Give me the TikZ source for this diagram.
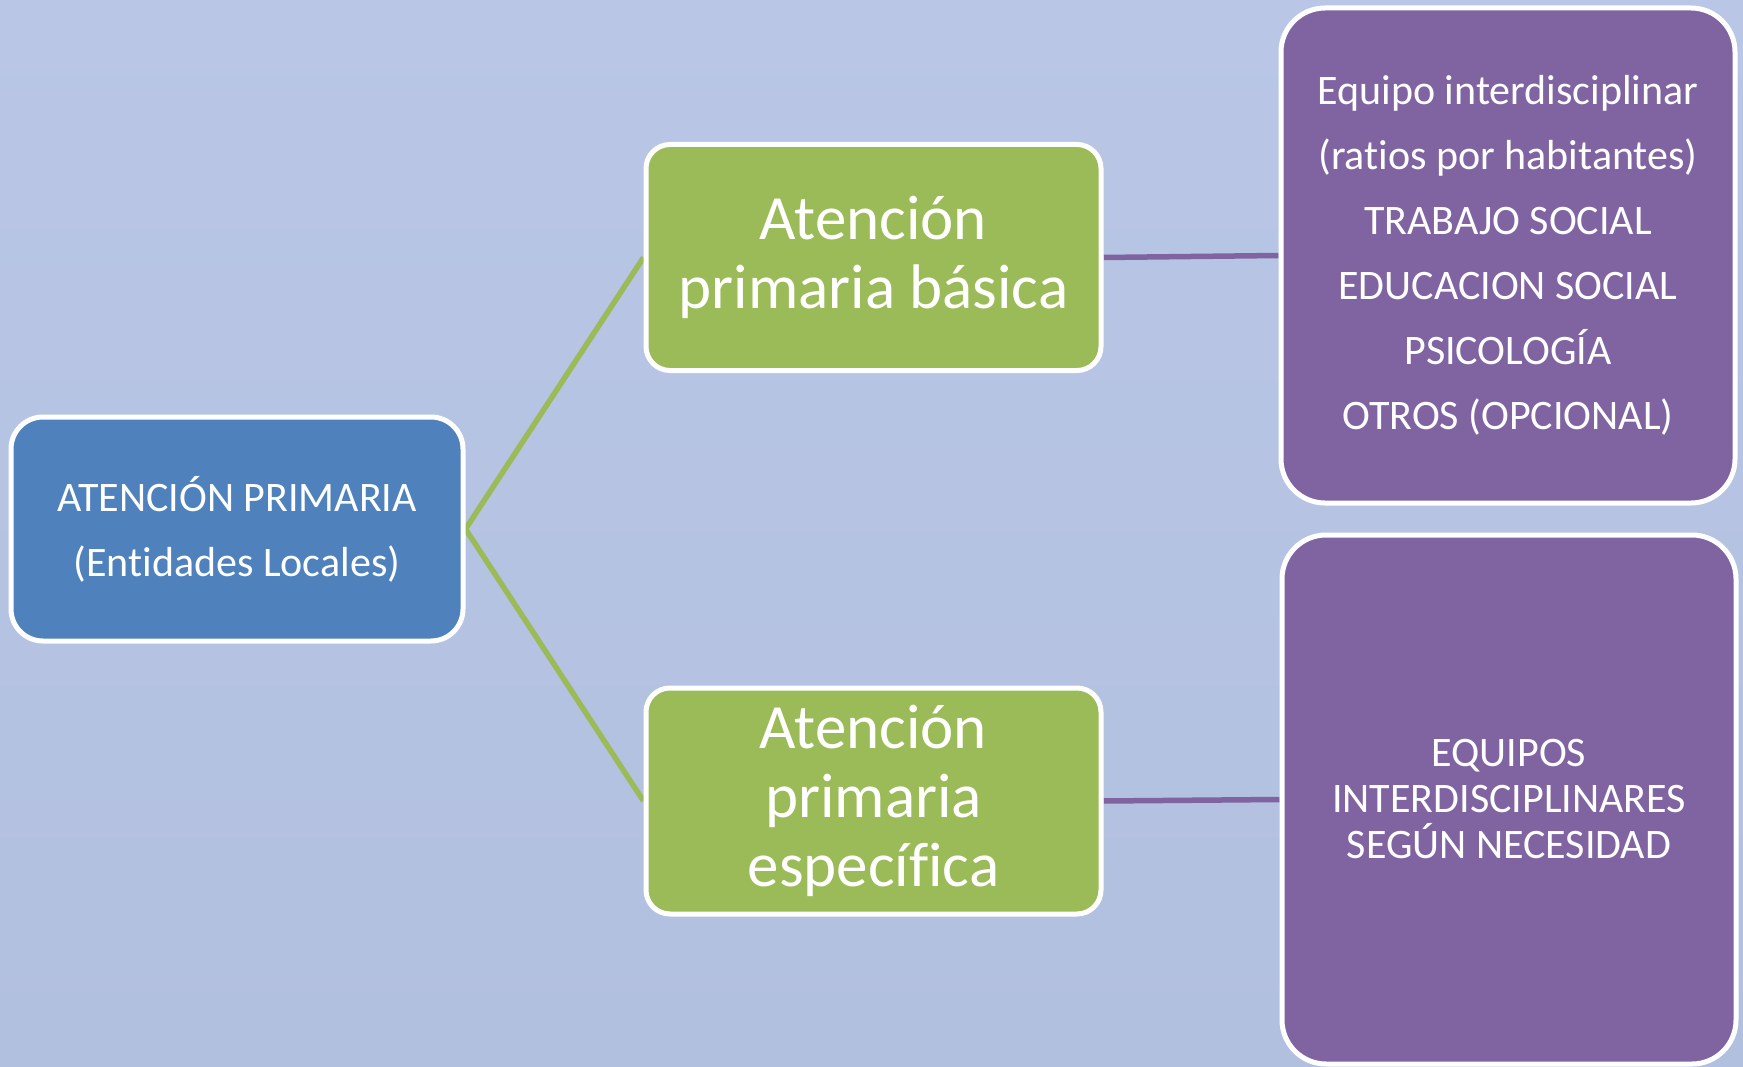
\documentclass[tikz,border=0pt]{standalone}
\usepackage{fontspec}
\setmainfont{Carlito}[Ligatures={NoCommon}]
\usetikzlibrary{backgrounds}
\definecolor{bgtop}{HTML}{B9C6E5}
\definecolor{bgbot}{HTML}{B2C0E0}
\definecolor{bluefill}{HTML}{4F81BD}
\definecolor{greenfill}{HTML}{9BBB59}
\definecolor{purplefill}{HTML}{8064A2}
\begin{document}
\begin{tikzpicture}[x=1pt,y=-1pt,
  box/.style={draw=white,line width=5pt,rounded corners=#1,inner sep=0pt,
              text=white,align=center},
  bluebox/.style={box=32,fill=bluefill,minimum width=452pt,minimum height=224pt,
              font=\fontsize{42}{65}\selectfont},
  greenbox/.style={box=24,fill=greenfill,minimum width=455pt,minimum height=226pt,
              font=\fontsize{63}{69}\selectfont},
  purplebox/.style={box=44,fill=purplefill,minimum width=454pt},
  greenline/.style={draw=greenfill,line width=5.5pt},
  purpleline/.style={draw=purplefill,line width=5.5pt}]
\useasboundingbox (0,0) rectangle (1743,1067);

\node[bluebox] (ap) at (237,529) {ATENCIÓN PRIMARIA\\(Entidades Locales)};
\node[greenbox] (apb) at (873.5,257.5) {Atención\\primaria básica};
\node[greenbox] (ape) at (873.5,801) {Atención\\primaria\\específica};
\node[purplebox,minimum height=495pt,font=\fontsize{42}{65}\selectfont] (eq1) at (1508,255.5)
  {Equipo interdisciplinar\\(ratios por habitantes)\\TRABAJO SOCIAL\\EDUCACION SOCIAL\\PSICOLOGÍA\\OTROS (OPCIONAL)};
\node[purplebox,minimum height=529pt,font=\fontsize{42}{46}\selectfont] (eq2) at (1509,799.5)
  {EQUIPOS\\INTERDISCIPLINARES\\SEGÚN NECESIDAD};

\begin{scope}[on background layer]
  \fill[top color=bgtop,bottom color=bgbot] (0,0) rectangle (1743,1067);
  \draw[greenline] (ap.east) -- (apb.west);
  \draw[greenline] (ap.east) -- (ape.west);
  \draw[purpleline] (apb.east) -- (eq1.west);
  \draw[purpleline] (ape.east) -- (eq2.west);
\end{scope}
\end{tikzpicture}
\end{document}
